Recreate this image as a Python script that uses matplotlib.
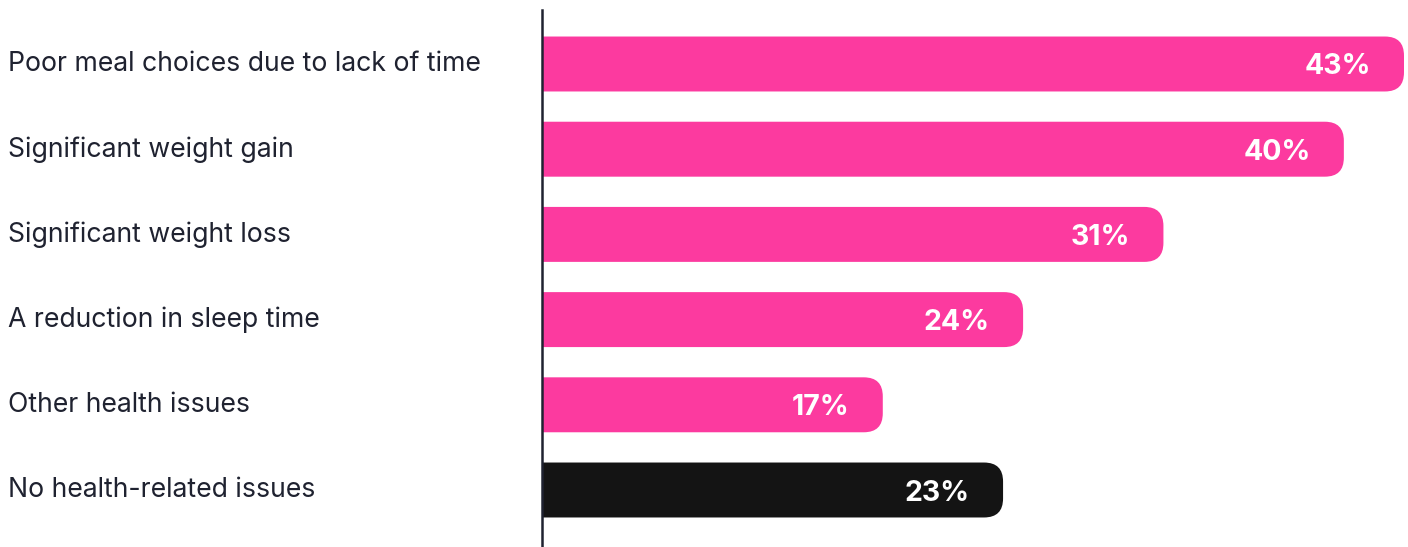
import matplotlib.pyplot as plt
from matplotlib.patches import FancyBboxPatch
from matplotlib.transforms import blended_transform_factory

categories = ['Poor meal choices due to lack of time', 'Significant weight gain',
              'Significant weight loss', 'A reduction in sleep time',
              'Other health issues', 'No health-related issues']
values = [43, 40, 31, 24, 17, 23]
bar_colors = ['#fc3a9f'] * 5 + ['#141414']

plt.rcParams['font.family'] = ['Inter', 'DejaVu Sans']

fig = plt.figure(figsize=(14.08, 5.47), dpi=100)
ax = fig.add_axes([542 / 1408, 0, 866 / 1408, 537 / 547])

px_x = 866 / 43.2          # pixels per percent
px_y = 85.2                # pixels per category
height = 0.645

bars = ax.barh(range(len(values)), values, height=height, color='none')
for bar, c in zip(bars, bar_colors):
    x0, y0 = bar.get_x(), bar.get_y()
    w, h = bar.get_width(), bar.get_height()
    r = 19 / px_x
    patch = FancyBboxPatch((x0 - 2, y0), w + 2, h,
                           boxstyle=f'round,pad=0,rounding_size={r}',
                           mutation_aspect=(1 / px_y) / (1 / px_x),
                           facecolor=c, edgecolor='none', zorder=2)
    ax.add_patch(patch)

for i, v in enumerate(values):
    ax.text(v - 33 / px_x, i, f'{v}%', ha='right', va='center_baseline',
            color='white', fontsize=20.5, fontweight='bold', zorder=3)

trans = blended_transform_factory(fig.transFigure, ax.transData)
for i, label in enumerate(categories):
    ax.text(8 / 1408, i - 0.03, label, transform=trans, ha='left',
            va='center_baseline', color='#1f2230', fontsize=19.2)

ax.set_xlim(0, 43.2)
ax.set_ylim((547 - 64) / px_y, -54 / px_y)
ax.set_xticks([])
ax.set_yticks([])
for s in ['top', 'right', 'bottom']:
    ax.spines[s].set_visible(False)
ax.spines['left'].set_color('#1f2230')
ax.spines['left'].set_linewidth(1.8)
ax.spines['left'].set_zorder(4)

fig.savefig('out.png', dpi=100)
